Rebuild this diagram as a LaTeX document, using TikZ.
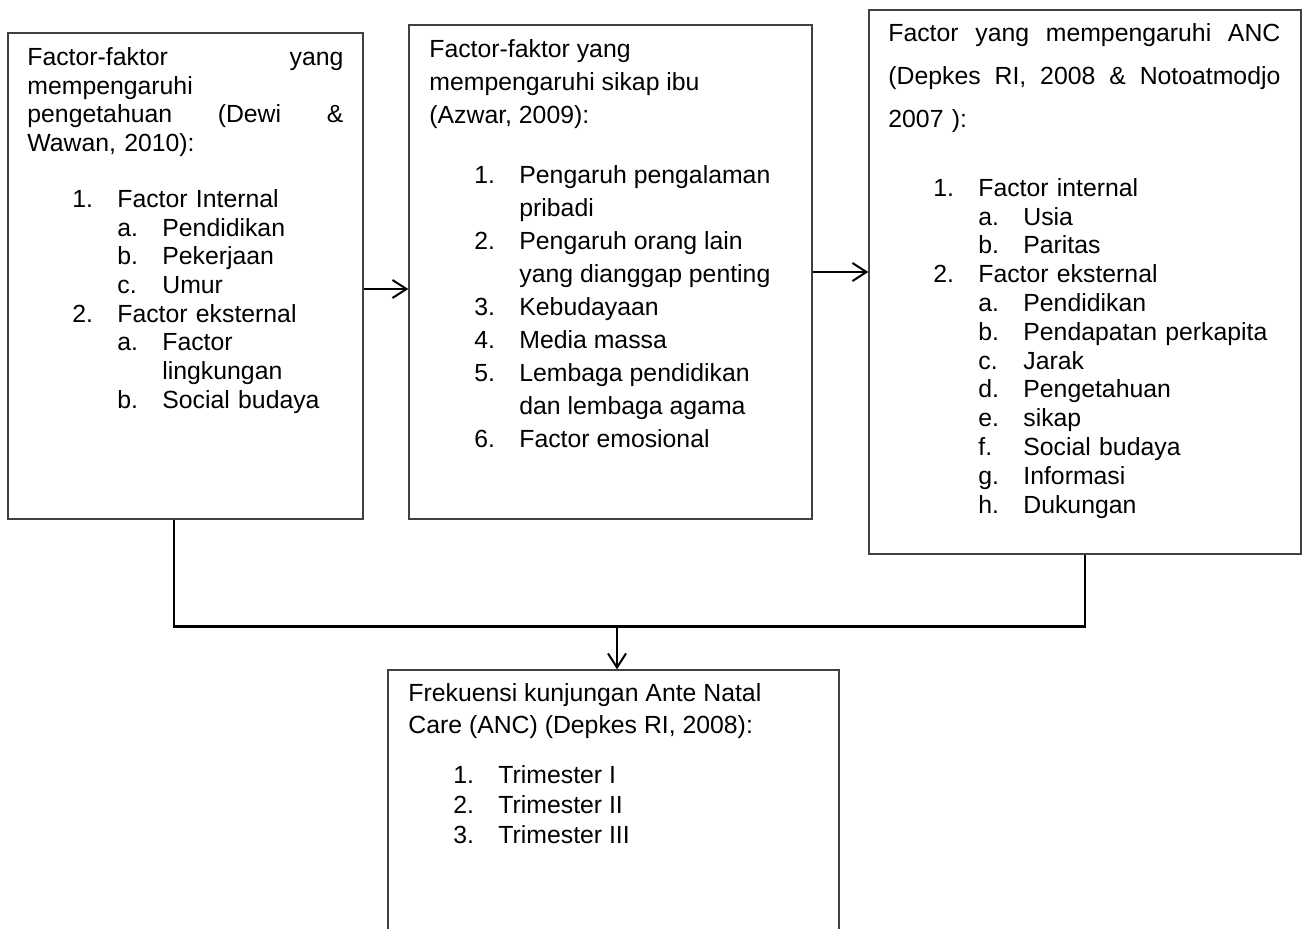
\documentclass[tikz,border=0pt]{standalone}
\usepackage{fontspec}
\setmainfont{Liberation Sans}
\usepackage{tikz}
\usetikzlibrary{arrows.meta}

% Listenpunkte (Nummer, Text) in zwei Ebenen
\newcommand{\nra}[2]{\hspace*{22.5pt}\makebox[22.5pt][l]{#1}#2}
\newcommand{\nrb}[2]{\hspace*{45pt}\makebox[22.5pt][l]{#1}#2}

\begin{document}
\begin{tikzpicture}[x=0.5pt,y=0.5pt,
	kasten/.style={draw=black!75,line width=0.7pt,inner sep=0pt},
	txt/.style={anchor=north west,inner sep=0pt,align=left},
	pfeil/.style={line width=1pt,-{Straight Barb[length=7pt,width=9pt]}},
	linie/.style={line width=1.2pt}]
	\useasboundingbox (0,0) rectangle (1308,-928);
	
	% Kasten I: Pengetahuan
	\node[kasten,minimum width=177.5pt,minimum height=243pt] (pk) at (185.5,-276) {};
	\node[txt,text width=158pt,font=\fontsize{12.4}{14.35}\selectfont] (pktxt) at (27,-47)
	{Factor-faktor\hfill yang\\
		mempengaruhi\\
		pengetahuan\hfill(Dewi\hfill\&\\
		Wawan, 2010):\\[13.65pt]
		\nra{1.}{Factor Internal}\\
		\nrb{a.}{Pendidikan}\\
		\nrb{b.}{Pekerjaan}\\
		\nrb{c.}{Umur}\\
		\nra{2.}{Factor eksternal}\\
		\nrb{a.}{Factor}\\
		\hspace*{67.5pt}lingkungan\\
		\nrb{b.}{Social budaya}};
	
	% Kasten II: Sikap ibu
	\node[kasten,minimum width=201.5pt,minimum height=247pt] (sk) at (610.5,-272) {};
	\node[txt,font=\fontsize{12.4}{16.5}\selectfont] (sktxt) at (429,-39)
	{Factor-faktor yang\\
		mempengaruhi sikap ibu\\
		(Azwar, 2009):\\[13.5pt]
		\nra{1.}{Pengaruh pengalaman}\\
		\hspace*{45pt}pribadi\\
		\nra{2.}{Pengaruh orang lain}\\
		\hspace*{45pt}yang dianggap penting\\
		\nra{3.}{Kebudayaan}\\
		\nra{4.}{Media massa}\\
		\nra{5.}{Lembaga pendidikan}\\
		\hspace*{45pt}dan lembaga agama\\
		\nra{6.}{Factor emosional}};
	
	% Kasten III: Faktor ANC
	\node[kasten,minimum width=216pt,minimum height=272pt] (anc) at (1085,-282) {};
	\node[txt,text width=196pt,font=\fontsize{12.4}{14.4}\selectfont] (anctxt) at (888,-23)
	{Factor\hfill yang\hfill mempengaruhi\hfill ANC\\[7.1pt]
		(Depkes\hfill RI,\hfill 2008\hfill\&\hfill Notoatmodjo\\[7.1pt]
		2007 ):\\[20.1pt]
		\nra{1.}{Factor internal}\\
		\nrb{a.}{Usia}\\
		\nrb{b.}{Paritas}\\
		\nra{2.}{Factor eksternal}\\
		\nrb{a.}{Pendidikan}\\
		\nrb{b.}{Pendapatan perkapita}\\
		\nrb{c.}{Jarak}\\
		\nrb{d.}{Pengetahuan}\\
		\nrb{e.}{sikap}\\
		\nrb{f.}{Social budaya}\\
		\nrb{g.}{Informasi}\\
		\nrb{h.}{Dukungan}};
	
	% Kasten IV: Frekuensi kunjungan (unten abgeschnitten)
	\node[kasten,minimum width=225.5pt,minimum height=165pt] (fk) at (613.5,-835) {};
	\node[txt,font=\fontsize{12.4}{15}\selectfont] (fktxt) at (408,-683)
	{Frekuensi kunjungan Ante Natal\\[1pt]
		Care (ANC) (Depkes RI, 2008):\\[10pt]
		\nra{1.}{Trimester I}\\
		\nra{2.}{Trimester II}\\
		\nra{3.}{Trimester III}};
	
	% Verbindungen
	\draw[pfeil] ([yshift=-6.5pt]pk.east) -- ([yshift=-8.5pt]sk.west);
	\draw[pfeil] (sk.east) -- (sk.east -| anc.west);
	\coordinate (knoten) at ([yshift=21.5pt,xshift=1.75pt]fk.north);
	\draw[linie] ([xshift=-5.75pt]pk.south) |- (knoten) -| (anc.south);
	\draw[pfeil] (knoten) -- (knoten |- fk.north);
	
\end{tikzpicture}
\end{document}
